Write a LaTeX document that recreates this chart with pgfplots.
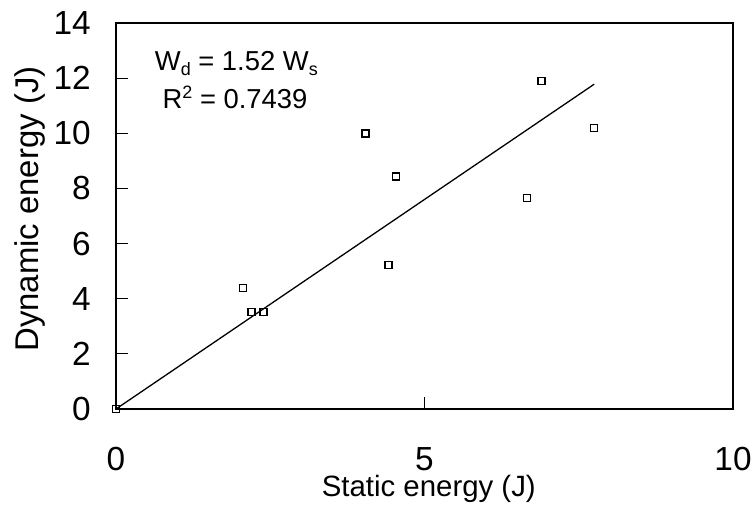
\documentclass[border=0pt]{standalone}
\usepackage{fontspec}
\setmainfont{Liberation Sans}
\usepackage{pgfplots}
\pgfplotsset{compat=1.18}
\begin{document}
\begin{tikzpicture}
\begin{axis}[
  scale only axis, width=617bp, height=386bp,
  xmin=0, xmax=10, ymin=0, ymax=14,
  xtick={0,5,10}, ytick={0,2,...,14},
  tick align=inside, xtick pos=bottom, ytick pos=left,
  major tick length=12bp,
  axis line style={line width=1.5bp},
  tick style={line width=1.2bp, black},
  /pgf/number format/assume math mode=true,
  ticklabel style={font=\fontsize{33.5}{40}\selectfont},
  xticklabel style={anchor=base, yshift=-61bp, inner sep=0pt},
  yticklabel style={anchor=east, xshift=-25bp, inner sep=0pt},
  xlabel={Static energy (J)}, ylabel={Dynamic energy (J)},
  xlabel style={at={(axis description cs:0.507,-0.2255)}, anchor=base, inner sep=0pt, font=\fontsize{29.5}{36}\selectfont},
  ylabel style={at={(axis description cs:-0.1264,0.518)}, anchor=base, inner sep=0pt, font=\fontsize{33}{40}\selectfont},
  clip=false,
]
\addplot[only marks, mark=square, mark size=3.5bp, mark options={line width=1.5bp, black}] coordinates {
  (0,0) (2.06,4.38) (2.20,3.51) (2.39,3.51) (4.04,10.0) (4.42,5.22)
  (4.54,8.44) (6.66,7.65) (6.90,11.9) (7.75,10.19)};
\addplot[black, line width=1.3bp] coordinates {(0,0) (7.75,11.78)};
\node[anchor=base, inner sep=0pt, font=\fontsize{27.5}{32}\selectfont] at (axis description cs:0.195,0.878)
  {W\raisebox{-5bp}{\fontsize{18}{18}\selectfont d} = 1.52 W\raisebox{-5bp}{\fontsize{18}{18}\selectfont s}};
\node[anchor=base, inner sep=0pt, font=\fontsize{27.5}{32}\selectfont] at (axis description cs:0.193,0.779)
  {R\raisebox{10bp}{\fontsize{18}{18}\selectfont 2} = 0.7439};
\end{axis}
\pgfresetboundingbox
\path[use as bounding box] (-116bp,-98bp) rectangle (637bp,409bp);
\end{tikzpicture}
\end{document}
